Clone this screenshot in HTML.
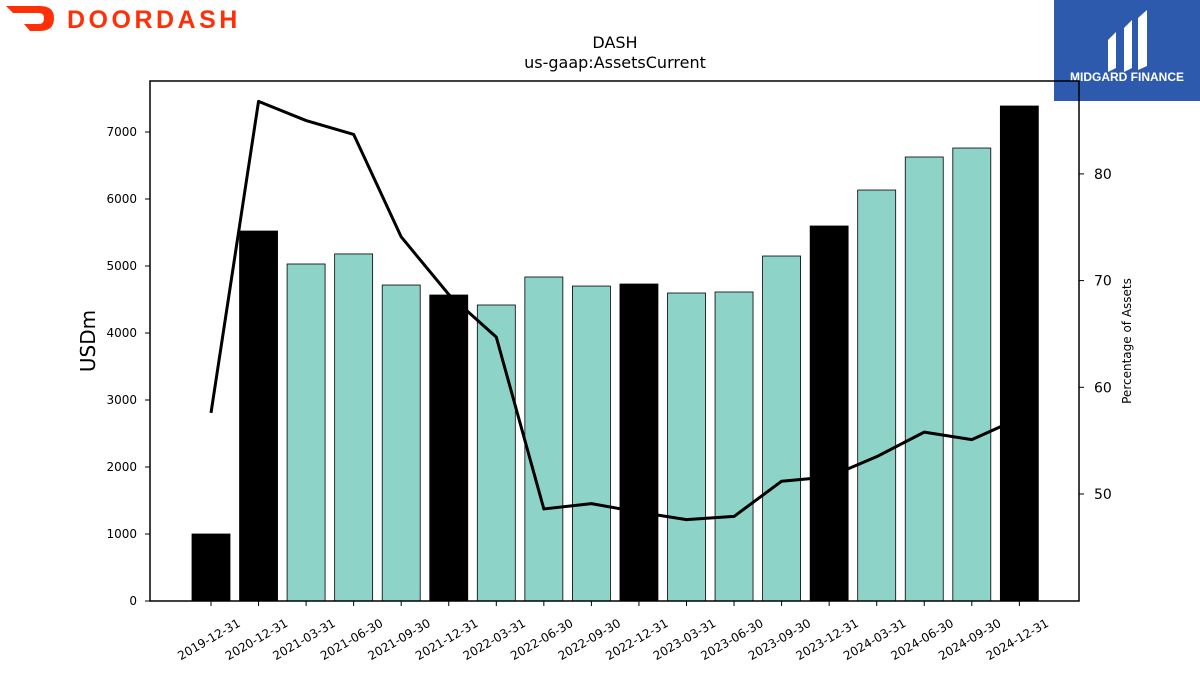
<!DOCTYPE html>
<html><head><meta charset="utf-8"><style>
body{margin:0;background:#fff;width:1200px;height:675px;overflow:hidden;font-family:"Liberation Sans","DejaVu Sans",sans-serif}
</style></head><body>
<svg width="1200" height="675" id="chart" xmlns="http://www.w3.org/2000/svg" font-family="DejaVu Sans, Liberation Sans, sans-serif">
<g>
<path d="M6,6 L40,6 Q54,6 54,18 Q54,31 40,31 L30,31 L24,24 L39,24 Q44,24 44,18 Q44,13 39,13 L13,13 Z" fill="#ff3008"/>
<text x="67" y="28" font-size="25" font-weight="bold" fill="#ff3008" letter-spacing="3.5" font-family="Liberation Sans, sans-serif">DOORDASH</text>
</g>
<g>
<rect x="1054" y="0" width="146" height="101" fill="#2d5aad"/>
<path d="M1108,40 L1116,32 L1116,68 L1108,72 Z M1124,28 L1132,20 L1132,68 L1124,72 Z M1138,18 L1147,10 L1147,66 L1138,70 Z" fill="#fff"/>
<text x="1127" y="81" font-size="12" font-weight="bold" fill="#fff" text-anchor="middle" font-family="Liberation Sans, sans-serif">MIDGARD FINANCE</text>
</g>
<text x="615" y="48" font-size="16" text-anchor="middle">DASH</text>
<text x="615" y="68" font-size="16" text-anchor="middle">us-gaap:AssetsCurrent</text>
<g id="bars"></g><g id="line"></g><g id="axes"></g>
<rect x="150" y="81" width="929" height="520" fill="none" stroke="#000" stroke-width="1.5"/>
<text transform="translate(95,341) rotate(-90)" font-size="20" text-anchor="middle">USDm</text>
<text transform="translate(1131,341) rotate(-90)" font-size="12" text-anchor="middle">Percentage of Assets</text>
</svg>
<script>
const categories=["2019-12-31","2020-12-31","2021-03-31","2021-06-30","2021-09-30","2021-12-31","2022-03-31","2022-06-30","2022-09-30","2022-12-31","2023-03-31","2023-06-30","2023-09-30","2023-12-31","2024-03-31","2024-06-30","2024-09-30","2024-12-31"];
const assetsCurrent=[1000,5522,5030,5180,4716,4567,4418,4836,4701,4731,4597,4612,5149,5597,6134,6627,6761,7388];
const pctAssets=[57.6,86.8,85.0,83.7,74.1,68.7,64.7,48.6,49.1,48.3,47.6,47.9,51.2,51.6,53.5,55.8,55.1,57.1];
const yTicks=[0,1000,2000,3000,4000,5000,6000,7000];
const y2Ticks=[50,60,70,80];
const NS="http://www.w3.org/2000/svg";
const x=i=>211+i*47.55;
const y=v=>601-v*0.067;
const y2=v=>494-(v-50)*10.67;
function mk(t,a,p){const e=document.createElementNS(NS,t);for(const k in a)e.setAttribute(k,a[k]);p.appendChild(e);return e;}
const bars=document.getElementById('bars'),axes=document.getElementById('axes'),line=document.getElementById('line');
categories.forEach((c,i)=>{
 const yearEnd=c.endsWith("12-31");
 const r=mk('rect',{x:x(i)-19,y:y(assetsCurrent[i]),width:38,height:601-y(assetsCurrent[i]),fill:yearEnd?'#000':'#8dd3c7',stroke:'#000','stroke-width':0.8},bars);
 
 
 mk('line',{x1:x(i),x2:x(i),y1:601,y2:606,stroke:'#000'},axes);
 const t=mk('text',{transform:`translate(${x(i)},643) rotate(-30)`,'font-size':12,'text-anchor':'middle'},axes);
 t.textContent=c;
 
 
});
const pl=mk('polyline',{points:pctAssets.map((v,i)=>x(i)+','+y2(v)).join(' '),fill:'none',stroke:'#000','stroke-width':3,'stroke-linejoin':'round'},line);


yTicks.forEach(v=>{
 mk('line',{x1:145,x2:150,y1:y(v),y2:y(v),stroke:'#000'},axes);
 const t=mk('text',{x:137,y:y(v)+4,'font-size':12,'text-anchor':'end'},axes);t.textContent=v;
 
 
});
y2Ticks.forEach(v=>{
 mk('line',{x1:1079,x2:1084,y1:y2(v),y2:y2(v),stroke:'#000'},axes);
 const t=mk('text',{x:1094,y:y2(v)+5,'font-size':14},axes);t.textContent=v;
 
 
});
</script>
</body></html>
